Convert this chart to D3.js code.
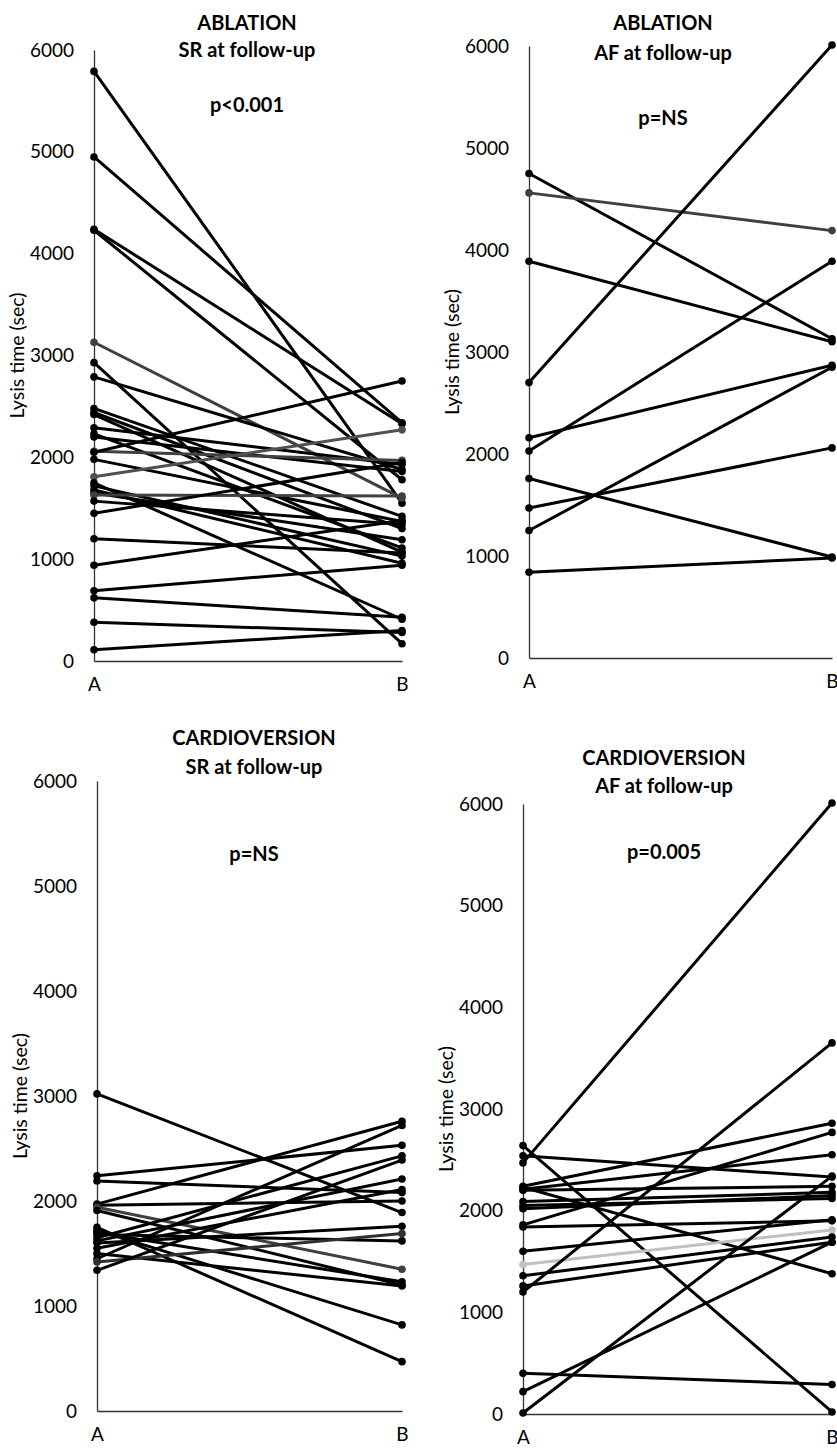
<!DOCTYPE html>
<html>
<head>
<meta charset="utf-8">
<script src="https://cdn.jsdelivr.net/npm/d3@7"></script>
<style>
  body { margin: 0; background: #fff; }
  svg { display: block; font-family: Lato, "Open Sans", sans-serif; }
</style>
</head>
<body>
<div id="chart"></div>
<script>
var timepoints = ["A", "B"];
var yTicks = [0, 1000, 2000, 3000, 4000, 5000, 6000];

// ablation, SR at follow-up
var ablSrA = [5790, 4950, 4240, 4230, 3130, 2930, 2790, 2480, 2440, 2420, 2290, 2230, 2200, 2060, 2050,
  1980, 1810, 1750, 1720, 1680, 1650, 1630, 1570, 1450, 1200, 940, 690, 620, 380, 110];
var ablSrB = [1550, 2340, 2330, 1780, 1600, 170, 1880, 1420, 1300, 1070, 1930, 1110, 1860, 1970, 2750,
  1370, 2270, 410, 1030, 960, 1190, 1620, 1340, 1950, 1060, 1380, 940, 430, 280, 300];

// ablation, AF at follow-up
var ablAfA = [4750, 4560, 3890, 2700, 2160, 2030, 1760, 1470, 1250, 840];
var ablAfB = [3130, 4190, 3100, 6010, 2870, 3890, 990, 2060, 2850, 980];

// cardioversion, SR at follow-up
var cvSrA = [3020, 2240, 2190, 1970, 1960, 1940, 1910, 1750, 1720, 1700, 1680, 1650, 1620, 1600, 1550,
  1500, 1450, 1420, 1340];
var cvSrB = [1890, 2530, 2080, 2760, 2000, 1350, 1200, 470, 820, 1230, 1620, 2430, 2210, 1760, 2110,
  1190, 2720, 1690, 2390];

// cardioversion, AF at follow-up
var cvAfA = [2640, 2540, 2470, 2240, 2230, 2210, 2200, 2090, 2050, 2020, 1860, 1840, 1600, 1470, 1360,
  1260, 1200, 400, 220, 10];
var cvAfB = [20, 2330, 6010, 2860, 1380, 2550, 2240, 2180, 2120, 2150, 2770, 1900, 1910, 1810, 1740,
  1690, 3650, 290, 1690, 2340];

var panels = [
  { title: ["ABLATION", "SR at follow-up"], p: "p<0.001", a: ablSrA, b: ablSrB,
    x0: 94, x1: 402, top: 50, bottom: 661, tx: 247, ty: [23, 50], py: 105,
    shade: { 4: "#404040", 13: "#404040", 16: "#505050", 21: "#404040" } },
  { title: ["ABLATION", "AF at follow-up"], p: "p=NS", a: ablAfA, b: ablAfB,
    x0: 529, x1: 832, top: 46, bottom: 658, tx: 663, ty: [23, 53], py: 118,
    shade: { 1: "#404040" } },
  { title: ["CARDIOVERSION", "SR at follow-up"], p: "p=NS", a: cvSrA, b: cvSrB,
    x0: 97, x1: 402, top: 781, bottom: 1411, tx: 254, ty: [738, 767], py: 854,
    shade: { 5: "#404040", 17: "#303030" } },
  { title: ["CARDIOVERSION", "AF at follow-up"], p: "p=0.005", a: cvAfA, b: cvAfB,
    x0: 523, x1: 832, top: 804, bottom: 1414, tx: 664, ty: [758, 786], py: 852,
    shade: { 13: "#c0c0c0" } }
];

var svg = d3.select("#chart").append("svg")
  .attr("width", 837)
  .attr("height", 1452);

panels.forEach(function (p) {
  var g = svg.append("g");
  var x = d3.scalePoint().domain(timepoints).range([p.x0, p.x1]);
  var y = d3.scaleLinear().domain([0, 6000]).range([p.bottom, p.top]);

  // y axis
  var ya = g.append("g")
    .attr("transform", "translate(" + p.x0 + ",0)")
    .call(d3.axisLeft(y).tickValues(yTicks).tickFormat(d3.format("d")).tickSize(0).tickPadding(20));
  ya.select(".domain").attr("stroke", "#333").attr("stroke-width", 1.3);
  ya.selectAll("text").attr("font-size", "19px").attr("fill", "#000")
    .attr("font-family", "Lato, sans-serif");

  // x axis
  var xa = g.append("g")
    .attr("transform", "translate(0," + p.bottom + ")")
    .call(d3.axisBottom(x).tickSize(0).tickPadding(17));
  xa.select(".domain").attr("stroke", "#333").attr("stroke-width", 1.3);
  xa.selectAll("text").attr("font-size", "19px").attr("fill", "#000")
    .attr("font-family", "Lato, sans-serif");

  // axis title
  g.append("text")
    .attr("transform", "translate(" + (p.x0 - 77) + "," + ((p.top + p.bottom) / 2) + ") rotate(-90)")
    .attr("text-anchor", "middle")
    .attr("dy", "0.35em")
    .attr("font-size", "19.5px")
    .text("Lysis time (sec)");

  // titles
  p.title.forEach(function (t, i) {
    g.append("text")
      .attr("x", p.tx)
      .attr("y", p.ty[i])
      .attr("dy", "0.35em")
      .attr("text-anchor", "middle")
      .attr("font-size", "20px")
      .attr("font-weight", "bold")
      .text(t);
  });
  g.append("text")
    .attr("x", p.tx)
    .attr("y", p.py)
    .attr("dy", "0.35em")
    .attr("text-anchor", "middle")
    .attr("font-size", "20px")
    .attr("font-weight", "bold")
    .text(p.p);

  // paired lines
  var pairs = p.a.map(function (v, i) { return { i: i, a: v, b: p.b[i] }; });
  var colour = function (d) { return p.shade[d.i] || "#000"; };

  g.selectAll("line.pair")
    .data(pairs)
    .enter()
    .append("line")
    .attr("class", "pair")
    .attr("x1", x("A"))
    .attr("x2", x("B"))
    .attr("y1", function (d) { return y(d.a); })
    .attr("y2", function (d) { return y(d.b); })
    .attr("stroke", colour)
    .attr("stroke-width", 3);

  ["a", "b"].forEach(function (k) {
    g.selectAll("circle." + k)
      .data(pairs)
      .enter()
      .append("circle")
      .attr("class", k)
      .attr("cx", x(k === "a" ? "A" : "B"))
      .attr("cy", function (d) { return y(d[k]); })
      .attr("r", 3.8)
      .attr("fill", colour);
  });
});
</script>
</body>
</html>
